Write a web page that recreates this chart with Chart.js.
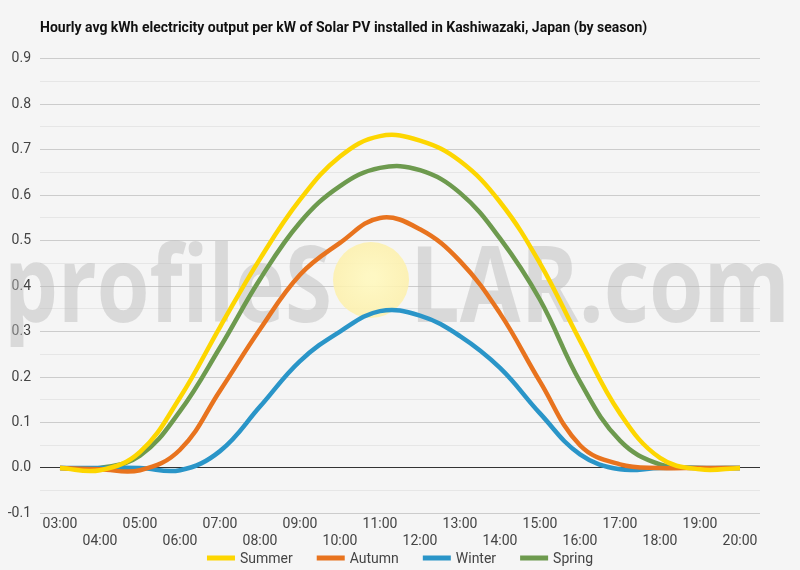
<!DOCTYPE html>
<html>
<head>
<meta charset="utf-8">
<script src="https://cdn.jsdelivr.net/npm/chart.js@4.4.1/dist/chart.umd.min.js"></script>
<style>
  html, body { margin: 0; padding: 0; background: #f5f5f5; }
  #wrap { width: 800px; height: 570px; position: relative; }
</style>
</head>
<body>
<div id="wrap"><canvas id="solar"></canvas></div>
<script>
const hours = ["03:00", "04:00", "05:00", "06:00", "07:00", "08:00", "09:00", "10:00", "11:00",
  "12:00", "13:00", "14:00", "15:00", "16:00", "17:00", "18:00", "19:00", "20:00"];

const summer = [0, -0.005, 0.035, 0.155, 0.31, 0.46, 0.59, 0.685, 0.73, 0.72, 0.675, 0.585, 0.45, 0.28, 0.12, 0.022, -0.003, 0];
const autumn = [0, -0.003, -0.005, 0.04, 0.17, 0.305, 0.425, 0.495, 0.55, 0.525, 0.455, 0.34, 0.19, 0.05, 0.008, 0, 0, 0];
const winter = [0, 0, 0, -0.005, 0.037, 0.135, 0.235, 0.3, 0.345, 0.335, 0.29, 0.22, 0.12, 0.03, -0.003, 0, 0, 0];
const spring = [0, 0, 0.027, 0.125, 0.265, 0.415, 0.54, 0.62, 0.66, 0.655, 0.605, 0.505, 0.37, 0.19, 0.06, 0.008, 0, 0];

const colors = {
  summer: "#fdd600",
  autumn: "#e8731e",
  winter: "#2a95c8",
  spring: "#6d9a4e"
};

// background + watermark
const bgPlugin = {
  id: "bg",
  beforeDraw(chart) {
    const ctx = chart.ctx;
    ctx.save();
    ctx.fillStyle = "#f5f5f5";
    ctx.fillRect(0, 0, chart.width, chart.height);
    ctx.restore();
  },
  beforeDatasetsDraw(chart) {
    const ctx = chart.ctx;
    ctx.save();
    // sun circle in place of the "O"
    const g = ctx.createRadialGradient(371, 278, 5, 371, 280, 39);
    g.addColorStop(0, "rgba(255,248,190,0.9)");
    g.addColorStop(1, "rgba(253,240,170,0.85)");
    ctx.fillStyle = g;
    ctx.beginPath();
    ctx.arc(371, 280, 38, 0, Math.PI * 2);
    ctx.fill();
    ctx.fillStyle = "rgba(185,185,185,0.45)";
    ctx.font = "bold 106px 'Open Sans', sans-serif";
    ctx.textBaseline = "alphabetic";
    let w = ctx.measureText("profileS").width;
    ctx.save();
    ctx.translate(4, 322);
    ctx.scale(328 / w, 1);
    ctx.fillText("profileS", 0, 0);
    ctx.restore();
    w = ctx.measureText("LAR.com").width;
    ctx.save();
    ctx.translate(410, 322);
    ctx.scale(380 / w, 1);
    ctx.fillText("LAR.com", 0, 0);
    ctx.restore();
    ctx.restore();
  }
};

// compact legend under the axis labels
const legendPlugin = {
  id: "lineLegend",
  afterDraw(chart) {
    const ctx = chart.ctx;
    const sets = chart.data.datasets;
    const box = 28, gap = 5, spacing = 24, y = 558;
    ctx.save();
    ctx.font = "14px Roboto";
    const widths = sets.map(d => box + gap + ctx.measureText(d.label).width);
    const total = widths.reduce((a, b) => a + b, 0) + spacing * (sets.length - 1);
    let x = chart.width / 2 - total / 2;
    ctx.textBaseline = "middle";
    sets.forEach((d, i) => {
      ctx.fillStyle = d.borderColor;
      ctx.fillRect(x, y - 2.5, box, 5);
      ctx.fillStyle = "#444";
      ctx.fillText(d.label, x + box + gap, y + 1);
      x += widths[i] + spacing;
    });
    ctx.restore();
  }
};

function series(label, values, color) {
  return {
    label: label,
    data: values,
    borderColor: color,
    backgroundColor: color,
    borderWidth: 4.5,
    pointRadius: 0,
    tension: 0.4,
    fill: false
  };
}

const config = {
  type: "line",
  data: {
    labels: hours,
    datasets: [
      series("Summer", summer, colors.summer),
      series("Autumn", autumn, colors.autumn),
      series("Winter", winter, colors.winter),
      series("Spring", spring, colors.spring)
    ]
  },
  options: {
    responsive: true,
    maintainAspectRatio: false,
    animation: false,
    layout: { padding: { top: 6, right: 40, left: 0, bottom: 17 } },
    scales: {
      x: {
        offset: true,
        grid: { display: false, drawTicks: false },
        border: { display: false },
        ticks: {
          autoSkip: false,
          maxRotation: 0,
          padding: 3,
          color: "#444",
          font: { family: "Roboto", size: 14 },
          callback: function (v, i) {
            const l = this.getLabelForValue(v);
            return i % 2 === 0 ? l : ["", l];
          }
        }
      },
      y: {
        min: -0.1,
        max: 0.9,
        afterFit(scale) { scale.width = 40; },
        border: { display: false },
        grid: {
          drawTicks: false,
          lineWidth: 1,
          color(ctx) {
            const v = Math.round(ctx.tick.value * 100);
            if (v === 0) return "#333";
            return v % 10 === 0 ? "#cccccc" : "#e6e6e6";
          }
        },
        ticks: {
          stepSize: 0.05,
          padding: 9,
          color: "#444",
          font: { family: "Roboto", size: 14 },
          callback(v) {
            const r = Math.round(v * 100);
            return r % 10 === 0 ? (r / 100).toFixed(1) : "";
          }
        }
      }
    },
    plugins: {
      title: {
        display: true,
        text: "Hourly avg kWh electricity output per kW of Solar PV installed in Kashiwazaki, Japan (by season)",
        align: "start",
        fullSize: false,
        color: "#111",
        font: { family: "Roboto", size: 14, weight: "bold" },
        padding: { top: 14, bottom: 22 }
      },
      legend: { display: false },
      tooltip: { enabled: false }
    }
  },
  plugins: [bgPlugin, legendPlugin]
};

const solarChart = new Chart("solar", config);
</script>
</body>
</html>
